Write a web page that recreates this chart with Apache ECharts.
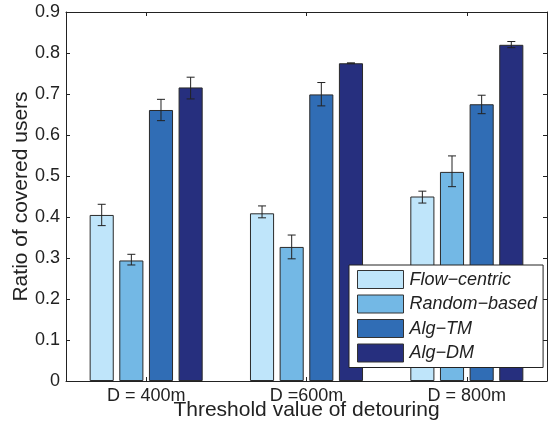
<!DOCTYPE html>
<html>
<head>
<meta charset="utf-8">
<script src="https://cdn.jsdelivr.net/npm/echarts@6/dist/echarts.min.js"></script>
<style>html,body{margin:0;padding:0;background:#fff;}#c{width:548px;height:422px;}</style>
</head>
<body>
<div id="c"></div>
<script>
const categories = ['D = 400m', 'D =600m', 'D = 800m'];
const seriesNames = ['Flow\u2212centric', 'Random\u2212based', 'Alg\u2212TM', 'Alg\u2212DM'];
const flowCentric = [0.405, 0.409, 0.450];
const randomBased = [0.294, 0.327, 0.510];
const algTM = [0.661, 0.699, 0.675];
const algDM = [0.716, 0.775, 0.820];
const flowErrLow = [0.379, 0.398, 0.434];
const flowErrHigh = [0.431, 0.427, 0.463];
const randomErrLow = [0.283, 0.298, 0.474];
const randomErrHigh = [0.309, 0.356, 0.549];
const tmErrLow = [0.635, 0.671, 0.652];
const tmErrHigh = [0.687, 0.728, 0.697];
const dmErrLow = [0.688, 0.774, 0.813];
const dmErrHigh = [0.741, 0.776, 0.828];
const yTicks = [0, 0.1, 0.2, 0.3, 0.4, 0.5, 0.6, 0.7, 0.8, 0.9];

const colors = ['#bfe5fa', '#73b8e5', '#306db5', '#262f7e'];
const values = [flowCentric, randomBased, algTM, algDM];
const errLow = [flowErrLow, randomErrLow, tmErrLow, dmErrLow];
const errHigh = [flowErrHigh, randomErrHigh, tmErrHigh, dmErrHigh];

const catGap = 0.295, barGap = 0.23, nSeries = 4;

const chart = echarts.init(document.getElementById('c'));
const series = [];
values.forEach((vals, i) => {
  series.push({
    name: seriesNames[i], type: 'bar', data: vals,
    barCategoryGap: (catGap * 100) + '%', barGap: (barGap * 100) + '%',
    itemStyle: { color: colors[i], borderColor: '#2a2a2a', borderWidth: 1 },
    emphasis: { disabled: true }, z: 2
  });
});
values.forEach((vals, i) => {
  series.push({
    type: 'custom', silent: true, z: 5,
    data: vals.map((v, k) => [k, errLow[i][k], errHigh[i][k]]),
    renderItem: function (params, api) {
      const band = api.size([1, 0])[0];
      const total = band * (1 - catGap);
      const w = total / (nSeries + (nSeries - 1) * barGap);
      const center = api.coord([api.value(0), 0])[0];
      const x = center - total / 2 + w / 2 + i * w * (1 + barGap);
      const lo = api.coord([api.value(0), api.value(1)])[1];
      const hi = api.coord([api.value(0), api.value(2)])[1];
      const cap = 4;
      const st = { stroke: '#222', lineWidth: 1 };
      return { type: 'group', children: [
        { type: 'line', shape: { x1: x, y1: lo, x2: x, y2: hi }, style: st },
        { type: 'line', shape: { x1: x - cap, y1: lo, x2: x + cap, y2: lo }, style: st },
        { type: 'line', shape: { x1: x - cap, y1: hi, x2: x + cap, y2: hi }, style: st }
      ]};
    }
  });
});

const fontFam = 'Liberation Sans, Arial, sans-serif';
chart.setOption({
  animation: false,
  backgroundColor: '#fff',
  grid: { left: 66, right: 1, top: 12, bottom: 41, show: false, outerBoundsMode: 'none', containLabel: false },
  legend: {
    data: seriesNames, orient: 'vertical', left: 349, top: 265,
    itemWidth: 46, itemHeight: 18, itemGap: 5.5,
    padding: [5, 6, 5, 8],
    backgroundColor: '#fff', borderColor: '#222', borderWidth: 1,
    icon: 'rect',
    itemStyle: { borderColor: '#333', borderWidth: 1 },
    textStyle: { fontFamily: fontFam, fontStyle: 'italic', fontSize: 18, color: '#222', padding: [0, 0, 0, 1] },
    selectedMode: false
  },
  xAxis: [{
    type: 'category', data: categories, position: 'bottom',
    axisLine: { onZero: false, lineStyle: { color: '#222', width: 1 } },
    axisTick: { show: true, inside: true, alignWithLabel: true, length: 4, lineStyle: { color: '#222' } },
    axisLabel: { fontFamily: fontFam, fontSize: 18, color: '#222', margin: 6 },
    name: 'Threshold value of detouring', nameLocation: 'middle', nameGap: 19, nameMoveOverlap: false,
    nameTextStyle: { fontFamily: fontFam, fontSize: 21, color: '#222' }
  }, {
    type: 'category', data: categories, position: 'top',
    axisLine: { onZero: false, lineStyle: { color: '#222', width: 1 } },
    axisTick: { show: true, inside: true, alignWithLabel: true, length: 4, lineStyle: { color: '#222' } },
    axisLabel: { show: false }
  }],
  yAxis: [{
    type: 'value', min: 0, max: 0.9, interval: 0.1, position: 'left',
    axisLine: { show: true, onZero: false, lineStyle: { color: '#222', width: 1 } },
    axisTick: { show: true, inside: true, length: 4, lineStyle: { color: '#222' } },
    splitLine: { show: false },
    axisLabel: { fontFamily: fontFam, fontSize: 18, color: '#222', margin: 6,
      formatter: v => { const t = yTicks.find(x => Math.abs(x - v) < 1e-6); return t === undefined ? '' : String(t); } },
    name: 'Ratio of covered users', nameLocation: 'middle', nameGap: 34, nameMoveOverlap: false,
    nameTextStyle: { fontFamily: fontFam, fontSize: 21, color: '#222' }
  }, {
    type: 'value', min: 0, max: 0.9, interval: 0.1, position: 'right',
    axisLine: { show: true, onZero: false, lineStyle: { color: '#222', width: 1 } },
    axisTick: { show: true, inside: true, length: 4, lineStyle: { color: '#222' } },
    splitLine: { show: false }, axisLabel: { show: false }
  }],
  series: series
});
</script>
</body>
</html>
